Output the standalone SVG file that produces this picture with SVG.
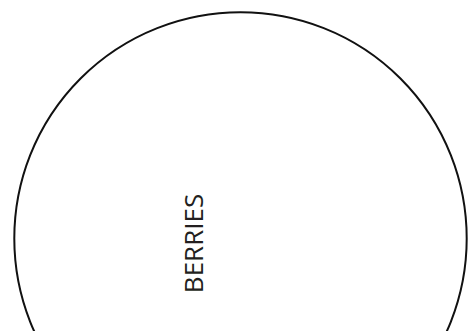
<svg xmlns="http://www.w3.org/2000/svg" width="469" height="331" viewBox="0 0 469 331">
<style>
.node{fill:none;stroke:#111;stroke-width:2}
.label{font-family:"Open Sans","Liberation Sans",sans-serif;font-size:26px;fill:#231f20;text-anchor:middle}
</style>
<rect width="469" height="331" fill="#fff"/>
<g id="berries">
<circle class="node" cx="240.5" cy="238.5" r="226.2"/>
<text class="label" transform="translate(202.5,243.5) rotate(-90)">BERRIES</text>
</g>
<g id="connectors"/>
</svg>
